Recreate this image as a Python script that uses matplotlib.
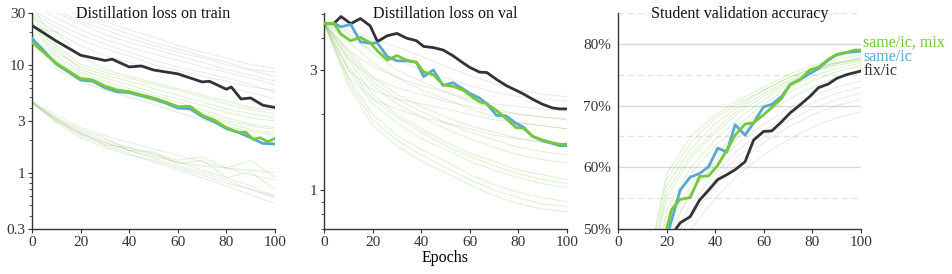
import numpy as np
import matplotlib.pyplot as plt
import matplotlib.ticker as mticker

plt.rcParams['font.family'] = ['Liberation Serif', 'DejaVu Serif']

# --- colours ---
GREEN = '#74c93a'
BLUE = '#5aa7d3'
BLACK = '#333333'
GRAY = '#9a9a9a'

# --- panel 1: distillation loss on train (log) ---
train_black_x = [0, 10, 20, 30, 33, 40, 45, 50, 60, 70, 73, 80, 82, 86, 90, 95, 100]
train_black_y = [23, 16.5, 12.2, 10.9, 11.2, 9.5, 9.7, 8.9, 8.2, 6.9, 7.0, 5.9, 6.2, 4.8, 4.9, 4.2, 4.0]
train_green_x = [0, 10, 20, 25, 30, 35, 40, 50, 55, 60, 65, 70, 75, 80, 85, 88, 91, 94, 97, 100]
train_green_y = [16.0, 10.3, 7.4, 7.2, 6.3, 5.8, 5.6, 4.9, 4.5, 4.07, 4.1, 3.4, 3.06, 2.6, 2.36, 2.36, 2.03, 2.1, 1.93, 2.07]
train_blue_x = [0, 10, 20, 25, 30, 35, 40, 50, 55, 60, 65, 70, 75, 80, 85, 90, 95, 100]
train_blue_y = [17.5, 10.1, 7.2, 7.0, 6.1, 5.6, 5.5, 4.8, 4.4, 3.95, 3.9, 3.3, 2.95, 2.55, 2.35, 2.1, 1.86, 1.84]

grid_x = [0, 10, 20, 30, 40, 50, 60, 70, 80, 90, 100]
train_faint_gray = [
    [45, 35, 28, 23, 19, 16, 14, 12, 10.5, 9, 8.5],
    [40, 30, 24, 19, 16, 14, 12, 10.5, 9, 8, 7],
    [35, 27, 21, 17, 14.5, 12.5, 11, 9.5, 8.5, 7.5, 6.5],
    [32, 24, 19, 15.5, 13, 11, 9.5, 8.5, 7.5, 6.5, 5.5],
    [28, 20, 15, 12, 10.5, 9, 8, 7, 6.2, 5.5, 4.8],
    [50, 38, 30, 25, 21, 18, 15, 13, 11.5, 10, 9.2],
    [42, 32, 25, 21, 17.5, 15, 13, 11.5, 10, 8.8, 7.8],
    [30, 22, 17, 14, 12, 10, 8.8, 7.8, 7, 6.2, 5.8],
    [4.5, 3.2, 2.4, 2.0, 1.7, 1.45, 1.25, 1.05, 0.9, 0.75, 0.6],
    [4.5, 3.0, 2.2, 1.8, 1.5, 1.25, 1.05, 0.9, 0.75, 0.62, 0.52],
    [4.6, 3.4, 2.6, 2.2, 1.9, 1.65, 1.45, 1.25, 1.1, 0.95, 0.85],
    [4.5, 3.1, 2.3, 1.9, 1.6, 1.35, 1.15, 1.0, 0.85, 0.7, 0.58],
]
train_faint_green = [
    [30, 14, 9, 7.5, 6.5, 5.5, 4.8, 4.2, 3.6, 3.2, 3.0],
    [25, 12, 8.5, 7, 6, 5.2, 4.5, 3.8, 3.2, 2.8, 2.6],
    [20, 10, 7.5, 6.2, 5.3, 4.6, 4, 3.4, 2.9, 2.5, 2.3],
    [35, 15, 10, 8.5, 7.5, 6.5, 5.8, 5, 4.3, 3.8, 3.5],
    [18, 9, 7, 5.8, 5, 4.3, 3.6, 3.1, 2.7, 2.4, 2.2],
    [22, 20, 12, 9, 7.8, 6.8, 6, 5.2, 4.6, 4.0, 3.8],
    [28, 13, 9.5, 8, 7, 6, 5.2, 4.5, 3.9, 3.5, 3.2],
    [24, 11, 8, 6.6, 5.6, 4.9, 4.2, 3.6, 3.0, 2.7, 2.5],
    [4.4, 3.0, 2.3, 1.8, 1.7, 1.5, 1.3, 1.4, 1.1, 1.3, 0.9],
    [4.5, 3.2, 2.5, 2.1, 1.6, 1.55, 1.2, 1.3, 0.9, 1.0, 0.7],
    [4.4, 3.1, 2.3, 1.9, 1.6, 1.4, 1.25, 1.15, 1.1, 1.05, 1.0],
    [4.4, 2.9, 2.1, 1.7, 1.45, 1.3, 1.1, 0.95, 0.8, 0.7, 0.6],
]

# --- panel 2: distillation loss on val (log) ---
val_x = [0, 4, 7, 11, 15, 19, 22, 26, 30, 34, 38, 41, 45, 49, 53, 57, 60, 64, 67, 71, 75, 79, 82, 86, 90, 94, 97, 100]
val_black = [4.58, 4.58, 4.89, 4.58, 4.8, 4.49, 3.89, 4.1, 4.19, 4.01, 3.92, 3.72, 3.68, 3.6, 3.42, 3.21, 3.07, 2.94,
             2.93, 2.75, 2.6, 2.49, 2.41, 2.29, 2.19, 2.12, 2.1, 2.1]
val_green = [4.58, 4.6, 4.16, 3.92, 4.04, 3.85, 3.57, 3.28, 3.42, 3.28, 3.22, 2.94, 2.87, 2.62, 2.58, 2.5, 2.38, 2.24,
             2.2, 2.07, 1.92, 1.77, 1.76, 1.63, 1.58, 1.54, 1.52, 1.52]
val_blue = [4.58, 4.6, 4.45, 4.55, 3.88, 3.83, 3.84, 3.39, 3.26, 3.26, 3.22, 2.82, 3.0, 2.6, 2.67, 2.53, 2.42, 2.32,
            2.2, 1.98, 1.97, 1.84, 1.78, 1.63, 1.57, 1.53, 1.5, 1.5]
val_faint_gray = [
    [4.6, 4.3, 4.0, 3.7, 3.4, 3.1, 2.85, 2.65, 2.5, 2.4, 2.35],
    [4.6, 4.0, 3.6, 3.3, 3.0, 2.8, 2.6, 2.45, 2.35, 2.3, 2.25],
    [4.6, 3.6, 3.1, 2.8, 2.6, 2.45, 2.3, 2.2, 2.15, 2.1, 2.05],
    [4.6, 2.8, 2.3, 2.1, 1.95, 1.85, 1.75, 1.65, 1.6, 1.55, 1.5],
    [4.6, 3.0, 2.5, 2.3, 2.2, 2.1, 2.0, 1.9, 1.85, 1.8, 1.75],
    [4.6, 3.3, 2.8, 2.55, 2.4, 2.25, 2.15, 2.05, 2.0, 1.95, 1.92],
]
val_faint_green = [
    [4.6, 3.3, 2.4, 2.0, 1.75, 1.55, 1.4, 1.3, 1.2, 1.15, 1.1],
    [4.6, 2.8, 2.0, 1.65, 1.45, 1.3, 1.15, 1.05, 0.98, 0.93, 0.9],
    [4.6, 3.0, 2.2, 1.85, 1.6, 1.45, 1.3, 1.2, 1.12, 1.06, 1.02],
    [4.6, 3.6, 2.8, 2.4, 2.15, 1.95, 1.8, 1.7, 1.6, 1.55, 1.5],
    [4.6, 3.9, 3.2, 2.8, 2.5, 2.3, 2.1, 1.95, 1.85, 1.8, 1.75],
    [4.6, 2.6, 1.8, 1.5, 1.3, 1.17, 1.05, 0.95, 0.88, 0.84, 0.82],
    [4.6, 3.4, 2.6, 2.2, 1.95, 1.75, 1.6, 1.48, 1.38, 1.32, 1.28],
    [4.6, 4.2, 3.5, 3.0, 2.7, 2.45, 2.25, 2.1, 2.0, 1.95, 1.9],
    [4.6, 3.1, 2.3, 1.95, 1.7, 1.5, 1.36, 1.25, 1.16, 1.1, 1.06],
    [4.6, 2.7, 1.9, 1.58, 1.38, 1.23, 1.1, 1.0, 0.93, 0.88, 0.86],
    [4.6, 3.5, 2.7, 2.3, 2.05, 1.85, 1.7, 1.58, 1.48, 1.42, 1.38],
]

# --- panel 3: student validation accuracy (%) ---
acc_green_x = [20, 22, 25.6, 29.7, 33.6, 37.3, 41, 44.8, 48.2, 52.3, 55.8, 59.9, 63.3, 67.4, 70.8, 74.9, 79, 82.5,
               86.6, 90, 94, 97.5, 100]
acc_green_y = [50, 53.1, 54.8, 55.1, 58.5, 58.6, 60.3, 62.8, 65.2, 67.0, 67.2, 68.5, 69.7, 71.2, 73.4, 74.2, 75.8,
               76.2, 77.5, 78.3, 78.6, 79.0, 79.0]
acc_blue_x = [21, 25.6, 29.7, 33.6, 37.3, 41, 44.8, 48.2, 52.3, 55.8, 59.9, 63.3, 67.4, 70.8, 74.9, 79, 82.5, 86.6,
              90, 94, 100]
acc_blue_y = [50, 56.3, 58.4, 59.0, 60.1, 63.1, 62.5, 66.9, 65.2, 67.2, 69.8, 70.2, 71.5, 73.4, 74.2, 75.2, 76.0,
              77.4, 78.2, 78.6, 78.8]
acc_black_x = [23.8, 25.6, 29.7, 33.6, 37.3, 41, 44.8, 48.2, 52.3, 55.8, 59.9, 63.3, 67.4, 70.8, 74.9, 79, 82.5,
               86.6, 90, 94, 100]
acc_black_y = [50, 51.0, 52.0, 54.7, 56.3, 58.0, 58.8, 59.6, 60.9, 64.4, 65.8, 65.9, 67.4, 68.8, 70.1, 71.5, 72.9,
               73.5, 74.4, 75.0, 75.6]
acc_faint_x = [10, 20, 30, 40, 50, 60, 70, 80, 90, 100]
acc_faint_green = [
    [38, 57, 63, 67, 70, 72.5, 74.5, 76, 77, 77.8],
    [35, 53, 60, 64.5, 68, 71, 73.5, 75.5, 76.8, 77.5],
    [40, 59, 65, 68.5, 71, 73, 75, 76.5, 77.5, 78.2],
    [33, 50, 57, 62, 66, 69.5, 72, 74, 75.5, 76.5],
    [36, 55, 61.5, 65.5, 69, 71.5, 73.8, 75.5, 76.5, 77.2],
    [30, 48, 56, 61, 65, 68.5, 71, 73, 74.5, 75.5],
    [40, 58, 64, 68, 70.5, 72.5, 74.5, 76, 77, 77.6],
    [37, 56, 62, 66, 69.5, 72, 74, 75.8, 76.8, 77.4],
    [34, 52, 59, 63.5, 67, 70.3, 72.8, 74.8, 76, 76.9],
]
acc_faint_gray = [
    [30, 47, 54, 59, 63, 66, 68.5, 70.5, 72, 73],
    [28, 45, 52, 57, 61, 64, 66.5, 68.5, 70, 71],
    [32, 49, 56, 60.5, 64, 67, 69.5, 71.5, 73, 74],
    [26, 43, 50, 55, 59, 62, 64.5, 66.5, 68, 69],
    [29, 46, 53, 58, 62, 65, 67.5, 69.5, 71, 72],
]

fig = plt.figure(figsize=(9.52, 2.74), dpi=100)
W, H = 952, 274
axes = []
for left in (32, 324, 618):
    axes.append(fig.add_axes([left / W, 1 - 229 / H, 243 / W, 216 / H]))
ax1, ax2, ax3 = axes

FS_TICK = 11
FS_TITLE = 11.5


def style(ax, title):
    for s in ('top', 'right'):
        ax.spines[s].set_visible(False)
    for s in ('left', 'bottom'):
        ax.spines[s].set_color(BLACK)
        ax.spines[s].set_linewidth(1.0)
    ax.tick_params(labelsize=FS_TICK, colors=BLACK, length=3, width=0.8, pad=2)
    ax.tick_params(which='minor', length=2, width=0.6, colors=BLACK)
    ax.set_xlim(0, 100)
    ax.set_xticks([0, 20, 40, 60, 80, 100])
    ax.text(0.5, 0.995, title, transform=ax.transAxes, ha='center', va='center',
            fontsize=FS_TITLE, color='#111111', zorder=6)


def faint(ax, xs, rows, color, alpha=0.2):
    for r in rows:
        ax.plot(xs, r, color=color, lw=0.7, alpha=alpha, zorder=1)


# panel 1
faint(ax1, grid_x, train_faint_gray, GRAY, 0.22)
faint(ax1, grid_x, train_faint_green, GREEN, 0.25)
ax1.plot(train_black_x, train_black_y, color=BLACK, lw=2, zorder=3)
ax1.plot(train_blue_x, train_blue_y, color=BLUE, lw=2, zorder=3)
ax1.plot(train_green_x, train_green_y, color=GREEN, lw=2, zorder=4)
ax1.set_yscale('log')
ax1.set_ylim(0.3, 30)
ax1.yaxis.set_major_locator(mticker.FixedLocator([0.3, 1, 3, 10, 30]))
ax1.yaxis.set_major_formatter(mticker.FixedFormatter(['0.3', '1', '3', '10', '30']))
ax1.yaxis.set_minor_locator(mticker.LogLocator(subs=np.arange(2, 10)))
ax1.yaxis.set_minor_formatter(mticker.NullFormatter())
style(ax1, 'Distillation loss on train')

# panel 2
faint(ax2, grid_x, val_faint_gray, GRAY, 0.22)
faint(ax2, grid_x, val_faint_green, GREEN, 0.25)
ax2.plot(val_x, val_black, color=BLACK, lw=2, zorder=3)
ax2.plot(val_x, val_blue, color=BLUE, lw=2, zorder=3)
ax2.plot(val_x, val_green, color=GREEN, lw=2, zorder=4)
ax2.set_yscale('log')
ax2.set_ylim(0.7, 5.05)
ax2.yaxis.set_major_locator(mticker.FixedLocator([1, 3]))
ax2.yaxis.set_major_formatter(mticker.FixedFormatter(['1', '3']))
ax2.yaxis.set_minor_locator(mticker.LogLocator(subs=np.arange(2, 10)))
ax2.yaxis.set_minor_formatter(mticker.NullFormatter())
style(ax2, 'Distillation loss on val')
ax2.set_xlabel('Epochs', fontsize=FS_TITLE, labelpad=1)

# panel 3
for v in (60, 70, 80):
    ax3.axhline(v, color='#d9d9d9', lw=1, zorder=0)
for v in (55, 65, 75, 85):
    ax3.axhline(v, color='#e3e3e3', lw=1, ls=(0, (4, 3)), zorder=0)
faint(ax3, acc_faint_x, acc_faint_gray, GRAY, 0.22)
faint(ax3, acc_faint_x, acc_faint_green, GREEN, 0.25)
ax3.plot(acc_black_x, acc_black_y, color=BLACK, lw=2, zorder=3)
ax3.plot(acc_blue_x, acc_blue_y, color=BLUE, lw=2, zorder=3)
ax3.plot(acc_green_x, acc_green_y, color=GREEN, lw=2, zorder=4)
ax3.set_ylim(50, 85)
ax3.set_yticks([50, 60, 70, 80])
ax3.yaxis.set_major_formatter(mticker.FuncFormatter(lambda v, p: f'{v:.0f}%'))
style(ax3, 'Student validation accuracy')
ax3.tick_params(axis='y', length=0, pad=5)

# end labels
ax3.text(101, 80.2, 'same/ic, mix', color=GREEN, fontsize=11.5, va='center', clip_on=False)
ax3.text(101, 77.9, 'same/ic', color=BLUE, fontsize=11.5, va='center', clip_on=False)
ax3.text(101, 75.6, 'fix/ic', color=BLACK, fontsize=11.5, va='center', clip_on=False)

fig.savefig('out.png', dpi=100)
